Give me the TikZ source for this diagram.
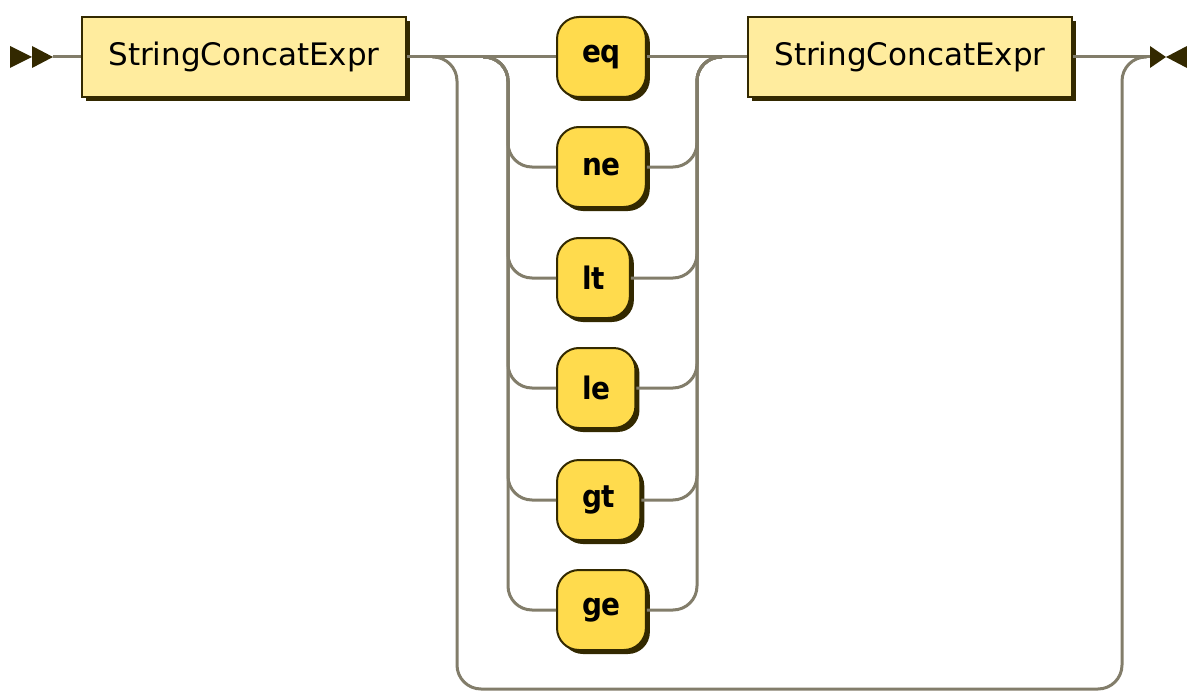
\documentclass[tikz,border=0pt]{standalone}
\usepackage{fontspec}
\setmainfont{DejaVu Sans}
\newfontfamily\termfont{DejaVu Sans Condensed}
\usepackage{tikz}
\usetikzlibrary{positioning}
\usetikzlibrary{shadows}

\definecolor{railline}{RGB}{130,125,106}
\definecolor{boxedge}{RGB}{51,41,0}
\definecolor{ntfill}{RGB}{255,236,158}
\definecolor{tfill}{RGB}{255,219,77}

\begin{document}
\begin{tikzpicture}[x=1pt, y=-1pt,
  rail/.style={line width=3pt, draw=railline, rounded corners=24pt},
  boxshadow/.style={drop shadow={shadow xshift=4pt, shadow yshift=-4pt, fill=boxedge, opacity=1}},
  nonterm/.style={draw=boxedge, line width=2pt, fill=ntfill, boxshadow,
    minimum width=324pt, minimum height=80pt, font=\fontsize{31}{37}\selectfont},
  term/.style={draw=boxedge, line width=2pt, fill=tfill, boxshadow, rounded corners=22pt,
    anchor=west, minimum height=80pt, inner xsep=25pt, font=\termfont\bfseries\fontsize{31}{37}\selectfont},
  marker/.style={fill=boxedge, draw=none}]

% Set the size of the figure
\useasboundingbox (0,0) rectangle (1187,693);

% Start and end markers
\fill[marker] (10,46) -- (32,57) -- (10,68) -- cycle;
\fill[marker] (32,46) -- (53,57) -- (32,68) -- cycle;
\fill[marker] (1150,46) -- (1166,57) -- (1150,68) -- cycle;
\fill[marker] (1187,46) -- (1166,57) -- (1187,68) -- cycle;
\coordinate (start) at (53,57);
\coordinate (finish) at (1150,57);

% Junction points
\coordinate (skipin) at (432,57);
\coordinate (skipout) at (1147,57);
\coordinate (split) at (483,57);
\coordinate (splitv) at (508,57);
\coordinate (joinv) at (697,57);
\coordinate (join) at (722,57);

% Boxes
\node[nonterm] (lhs) at (244,57) {StringConcatExpr};
\node[nonterm] (rhs) at (910,57) {StringConcatExpr};
\node[term] (eq) at (556,57) {eq};
\foreach \op/\y in {ne/167, lt/278, le/388, gt/500, ge/610}
  \node[term] (\op) at (556,\y) {\op};

% Main line
\draw[rail] (start) -- (lhs.west);
\draw[rail] (lhs.east) -- (eq.west);
\draw[rail] (eq.east) -- (rhs.west);
\draw[rail] (rhs.east) -- (finish);

% Operator choices
\foreach \op in {ne, lt, le, gt, ge} {
  \draw[rail] (split) -- (splitv) |- (\op.west);
  \draw[rail] (\op.east) -| (joinv) -- (join);
}

% Bypass
\draw[rail] (skipin) -- (457,57) -- (457,689) -- (1122,689) -- (1122,57) -- (skipout);
\end{tikzpicture}
\end{document}
